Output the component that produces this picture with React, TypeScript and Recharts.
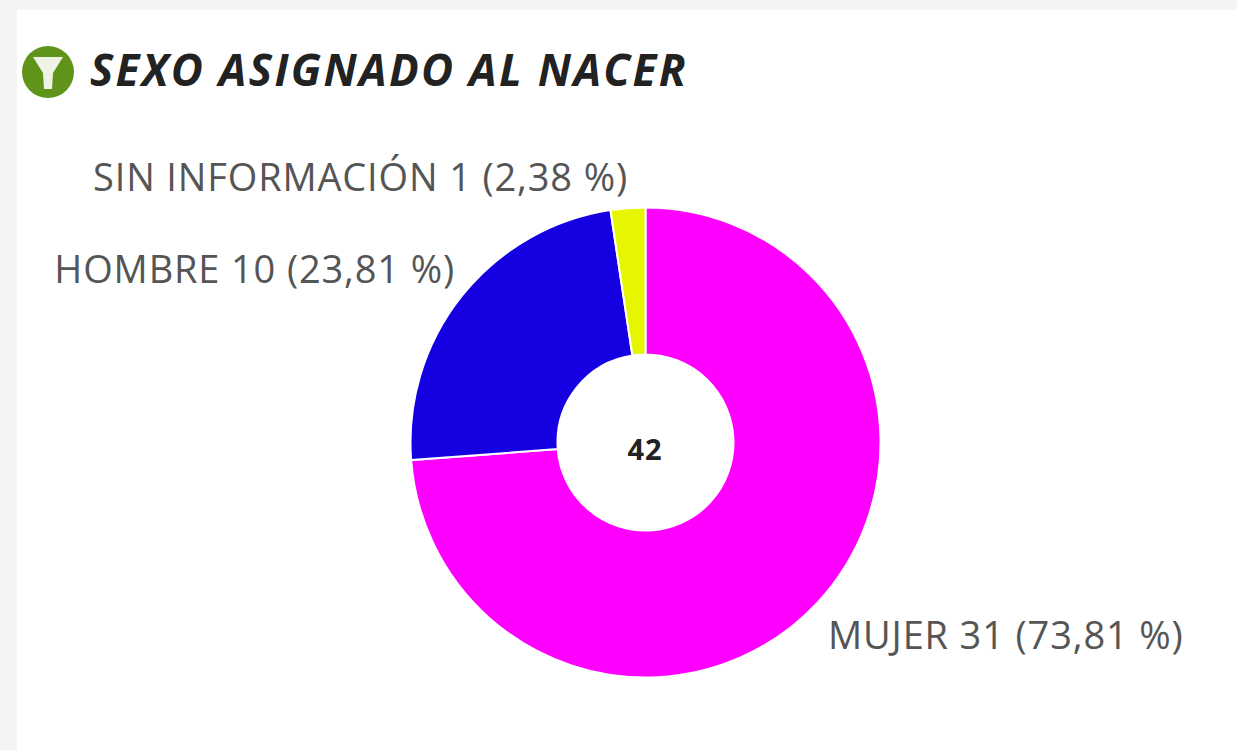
import { PieChart, Pie, Cell } from "recharts";

const categories = ["MUJER", "HOMBRE", "SIN INFORMACIÓN"];
const counts = [31, 10, 1];
const percents = ["73,81", "23,81", "2,38"];
const colors = ["#ff00ff", "#1400e0", "#e6f500"];
const total = "42";

const labelSpots = [
  { x: 828, y: 634, anchor: "start" },
  { x: 455, y: 268, anchor: "end" },
  { x: 628, y: 176, anchor: "end" },
];

const data = categories.map((name, i) => ({ name, value: counts[i] }));

const font = "'Open Sans', sans-serif";

function sliceLabel(props: any) {
  const spot = labelSpots[props.index];
  return (
    <text
      x={spot.x}
      y={spot.y}
      textAnchor={spot.anchor}
      dominantBaseline="central"
      fontFamily={font}
      fontSize={38}
      letterSpacing={0.85}
      fill="#555555"
    >
      {`${categories[props.index]} ${counts[props.index]} (${percents[props.index]} %)`}
    </text>
  );
}

export default function App() {
  return (
    <div
      style={{
        position: "absolute",
        left: 0,
        top: 0,
        width: 1237,
        height: 750,
        overflow: "hidden",
        background: "#f4f4f4",
      }}
    >
      <div
        style={{
          position: "absolute",
          left: 17,
          top: 10,
          width: 1220,
          height: 740,
          background: "#ffffff",
        }}
      />
      <svg
        width={54}
        height={54}
        viewBox="0 0 54 54"
        style={{ position: "absolute", left: 21, top: 45 }}
      >
        <ellipse cx={27} cy={27} rx={26} ry={26} fill="#5f9319" />
        <path d="M12 12 L42 12 L32 28 L31 44 L23 44 L22 28 Z" fill="#eef3e6" />
      </svg>
      <div
        style={{
          position: "absolute",
          left: 90,
          top: 38,
          fontFamily: font,
          fontWeight: 700,
          fontStyle: "italic",
          fontSize: 44,
          letterSpacing: 2.3,
          lineHeight: "62px",
          color: "#222222",
          whiteSpace: "nowrap",
        }}
      >
        SEXO ASIGNADO AL NACER
      </div>
      <div style={{ position: "absolute", left: 0, top: 0 }}>
        <PieChart width={1237} height={750}>
          <Pie
            data={data}
            dataKey="value"
            nameKey="name"
            cx={640.5}
            cy={437.5}
            innerRadius={88}
            outerRadius={235}
            startAngle={90}
            endAngle={-270}
            stroke="#ffffff"
            strokeWidth={2}
            label={sliceLabel}
            labelLine={false}
            isAnimationActive={false}
          >
            {data.map((d, i) => (
              <Cell key={d.name} fill={colors[i]} />
            ))}
          </Pie>
          <text
            x={645}
            y={448}
            textAnchor="middle"
            dominantBaseline="central"
            fontFamily={font}
            fontWeight={700}
            fontSize={29}
            letterSpacing={1}
            fill="#222222"
          >
            {total}
          </text>
        </PieChart>
      </div>
    </div>
  );
}
